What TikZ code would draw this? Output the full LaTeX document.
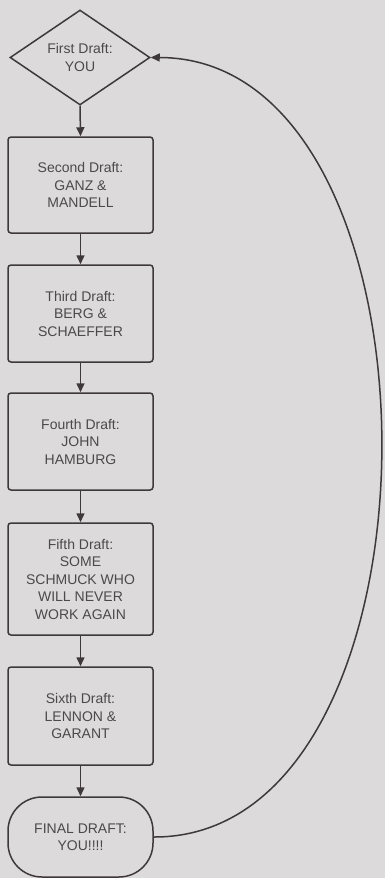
\documentclass[tikz,border=0pt]{standalone}
\usepackage{fontspec}
\setmainfont{Liberation Sans}
\usetikzlibrary{shapes.geometric,arrows.meta}
\definecolor{bg}{HTML}{DCDADA}
\definecolor{ln}{HTML}{3E383A}
\definecolor{tx}{HTML}{4A4A4A}
\begin{document}
\begin{tikzpicture}[x=1pt,y=-1pt,
  every node/.style={font=\fontsize{14}{17.5}\selectfont, text=tx, align=center, inner sep=0pt},
  stepbox/.style={draw=ln, line width=1.5pt, rectangle, rounded corners=3pt, minimum width=145pt},
  decision/.style={draw=ln, line width=1.5pt, diamond, minimum width=140pt, minimum height=95pt},
  terminal/.style={draw=ln, line width=1.5pt, rectangle, rounded corners=34pt, minimum width=145pt, minimum height=80pt},
  flow/.style={draw=ln, line width=1.5pt, -{Triangle[length=9pt,width=8pt]}}]
\fill[bg] (0,0) rectangle (385,878);
\useasboundingbox (0,0) rectangle (385,878);
\node[decision] (d1) at (80,57.5) {First Draft:\\YOU};
\node[stepbox, minimum height=96pt] (b2) at (80.5,185) {Second Draft:\\GANZ \&\\MANDELL};
\node[stepbox, minimum height=97pt] (b3) at (80.5,313.5) {Third Draft:\\BERG \&\\SCHAEFFER};
\node[stepbox, minimum height=97pt] (b4) at (80.5,441.5) {Fourth Draft:\\JOHN\\HAMBURG};
\node[stepbox, minimum height=112pt] (b5) at (80.5,579) {Fifth Draft:\\SOME\\SCHMUCK WHO\\WILL NEVER\\WORK AGAIN};
\node[stepbox, minimum height=98pt] (b6) at (80.5,716) {Sixth Draft:\\LENNON \&\\GARANT};
\node[terminal] (f) at (80.5,837) {FINAL DRAFT:\\YOU!!!!};
\draw[flow] (d1.south) -- (b2.north);
\draw[flow] (b2.south) -- (b3.north);
\draw[flow] (b3.south) -- (b4.north);
\draw[flow] (b4.south) -- (b5.north);
\draw[flow] (b5.south) -- (b6.north);
\draw[flow] (b6.south) -- (f.north);
\draw[flow] (f.east) .. controls (457,838) and (457,58) .. (d1.east);
\end{tikzpicture}
\end{document}
